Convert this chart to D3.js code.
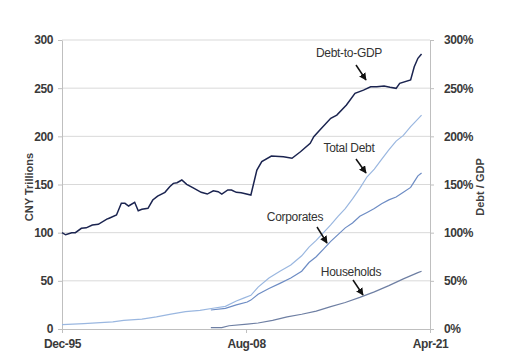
<!DOCTYPE html>
<html>
<head>
<meta charset="utf-8">
<script src="https://cdn.jsdelivr.net/npm/d3@7"></script>
<style>
  body { margin: 0; background: #fff; }
  svg { display: block; }
  .tick text { font-family: "Liberation Sans", Arial, sans-serif; font-size: 12px; font-weight: bold; letter-spacing: -0.4px; fill: #3a3a3a; }
  .ann { font-family: "Liberation Sans", Arial, sans-serif; font-size: 12px; letter-spacing: -0.3px; fill: #333; }
  .title { font-family: "Liberation Sans", Arial, sans-serif; font-size: 11px; font-weight: bold; fill: #404040; }
</style>
</head>
<body>
<svg id="chart" width="507" height="362"></svg>
<script>
// Series (CNY trillions, Debt-to-GDP in %).
const debtToGdp = [
  ["1995-12", 100], ["1996-03", 97.8], ["1996-08", 100], ["1996-11", 100], ["1997-04", 104.5],
  ["1997-08", 105], ["1998-01", 108], ["1998-06", 108.7], ["1999-01", 114], ["1999-03", 115],
  ["1999-09", 118.3], ["2000-01", 130.5], ["2000-04", 130.5], ["2000-07", 127.7], ["2000-12", 131.5],
  ["2001-03", 122.8], ["2001-06", 124.3], ["2001-11", 125.3], ["2002-03", 133.9], ["2002-07", 138],
  ["2003-01", 141.9], ["2003-05", 147.7], ["2003-08", 151.2], ["2003-11", 151.9], ["2004-03", 154.7],
  ["2004-07", 150.2], ["2004-12", 146.7], ["2005-07", 141.9], ["2005-12", 140.1], ["2006-05", 143.5],
  ["2006-09", 142.5], ["2006-12", 140.1], ["2007-05", 144.3], ["2007-08", 144.3], ["2007-12", 141.9],
  ["2008-04", 141.5], ["2008-12", 139.1], ["2009-05", 165], ["2009-09", 173.7], ["2010-05", 179.6],
  ["2011-03", 178.9], ["2011-10", 177.2], ["2012-05", 184], ["2013-01", 192.8], ["2013-04", 199.6],
  ["2013-09", 206.6], ["2014-06", 218.7], ["2014-11", 222.1], ["2015-07", 232.5], ["2016-02", 244.7],
  ["2016-09", 248], ["2017-03", 251.5], ["2017-08", 251.5], ["2018-02", 252.2], ["2018-07", 250.9],
  ["2018-12", 249.8], ["2019-03", 255], ["2019-12", 258.5], ["2020-03", 272.3], ["2020-06", 281],
  ["2020-09", 285.5]
];

const totalDebt = [
  ["1995-12", 4.5], ["1997-06", 5.6], ["1999-06", 7.3], ["2000-03", 9], ["2001-06", 10.2],
  ["2002-06", 12.5], ["2003-06", 15.5], ["2004-06", 18], ["2005-06", 19.3], ["2006-06", 21.8],
  ["2007-03", 23.5], ["2007-12", 29], ["2008-06", 32], ["2008-12", 35], ["2009-06", 43.5],
  ["2010-03", 53], ["2010-12", 60], ["2011-09", 66.4], ["2012-06", 76], ["2012-12", 85],
  ["2013-06", 92], ["2013-12", 100], ["2014-06", 108], ["2014-12", 117], ["2015-06", 125],
  ["2015-12", 135], ["2016-06", 146], ["2016-12", 158], ["2017-06", 166], ["2017-12", 176],
  ["2018-06", 186], ["2018-12", 195], ["2019-06", 201], ["2019-12", 210], ["2020-03", 214],
  ["2020-09", 222]
];

const corporates = [
  ["2006-03", 19.7], ["2007-03", 21.5], ["2007-12", 25], ["2008-09", 28], ["2008-12", 30],
  ["2009-06", 36], ["2010-03", 42], ["2010-12", 47.4], ["2011-09", 53], ["2012-06", 60],
  ["2012-12", 69], ["2013-06", 75], ["2013-12", 83], ["2014-06", 91], ["2014-12", 98],
  ["2015-06", 105], ["2015-12", 110], ["2016-06", 117], ["2016-12", 121], ["2017-06", 125],
  ["2017-12", 130], ["2018-06", 134], ["2018-12", 137], ["2019-06", 142], ["2019-12", 147],
  ["2020-03", 153], ["2020-06", 159], ["2020-09", 162]
];

const households = [
  ["2006-03", 1.5], ["2006-12", 1.5], ["2007-06", 3.4], ["2008-09", 5], ["2009-06", 6.2],
  ["2010-06", 9], ["2011-06", 12.5], ["2012-06", 15.3], ["2013-06", 18.5], ["2014-06", 23.3],
  ["2015-06", 27.5], ["2016-06", 32.8], ["2017-06", 38.5], ["2018-06", 45], ["2019-06", 52],
  ["2020-06", 58.5], ["2020-09", 60]
];

const leftTicks = [0, 50, 100, 150, 200, 250, 300];
const dateTicks = ["1995-12", "2008-08", "2021-04"];

const parse = d3.timeParse("%Y-%m");

const svg = d3.select("#chart");
const margin = { top: 40, right: 77, bottom: 33, left: 62 };
const width = 507 - margin.left - margin.right;
const height = 362 - margin.top - margin.bottom;

const x = d3.scaleTime()
    .domain([parse("1995-12"), parse("2021-04")])
    .range([margin.left, margin.left + width]);

const y = d3.scaleLinear()
    .domain([0, 300])
    .range([margin.top + height, margin.top]);

// Gridlines.
svg.append("g")
    .selectAll("line")
    .data(leftTicks.filter(d => d > 0))
    .join("line")
    .attr("x1", margin.left)
    .attr("x2", margin.left + width)
    .attr("y1", d => y(d))
    .attr("y2", d => y(d))
    .attr("stroke", "#d9d9d9")
    .attr("stroke-width", 1);

// Axes.
const styleAxis = (g) => {
    g.select(".domain").attr("stroke", "#bfbfbf");
    g.selectAll(".tick line").attr("stroke", "#bfbfbf");
};

svg.append("g")
    .attr("transform", `translate(${margin.left},0)`)
    .call(d3.axisLeft(y).tickValues(leftTicks).tickSize(4).tickSizeOuter(0).tickPadding(5))
    .call(styleAxis);

svg.append("g")
    .attr("transform", `translate(${margin.left + width},0)`)
    .call(d3.axisRight(y).tickValues(leftTicks).tickFormat(d => d + "%").tickSize(4).tickSizeOuter(0).tickPadding(10))
    .call(styleAxis);

svg.append("g")
    .attr("transform", `translate(0,${margin.top + height})`)
    .call(d3.axisBottom(x).tickValues(dateTicks.map(parse)).tickFormat(d3.timeFormat("%b-%y")).tickSize(4).tickSizeOuter(0).tickPadding(6))
    .call(styleAxis);

// Axis titles.
svg.append("text")
    .attr("class", "title")
    .attr("transform", "translate(33,187) rotate(-90)")
    .attr("text-anchor", "middle")
    .text("CNY  Trillions");

svg.append("text")
    .attr("class", "title")
    .attr("transform", "translate(484,187) rotate(-90)")
    .attr("text-anchor", "middle")
    .text("Debt / GDP");

// Lines.
const line = d3.line()
    .x(d => x(parse(d[0])))
    .y(d => y(d[1]));

const series = [
    { data: totalDebt, color: "#9ab7e0", w: 1.2 },
    { data: corporates, color: "#6d8cc4", w: 1.2 },
    { data: households, color: "#6e7fa3", w: 1.2 },
    { data: debtToGdp, color: "#1b2450", w: 1.5 }
];

svg.append("g")
    .selectAll("path")
    .data(series)
    .join("path")
    .attr("d", d => line(d.data))
    .attr("fill", "none")
    .attr("stroke", d => d.color)
    .attr("stroke-width", d => d.w);

// Annotations.
svg.append("defs").append("marker")
    .attr("id", "arrow")
    .attr("viewBox", "0 0 10 10")
    .attr("refX", 9)
    .attr("refY", 5)
    .attr("markerWidth", 5)
    .attr("markerHeight", 5)
    .attr("orient", "auto")
    .append("path")
    .attr("d", "M0,0L10,5L0,10z")
    .attr("fill", "#111");

const notes = [
    { label: "Debt-to-GDP", tx: 349, ty: 57, a: [356, 65, 366, 80] },
    { label: "Total Debt", tx: 349, ty: 152, a: [356, 159, 366, 173] },
    { label: "Corporates", tx: 295, ty: 221, a: [317, 227, 327, 243] },
    { label: "Households", tx: 351, ty: 276, a: [353, 280, 363, 295] }
];

notes.forEach((n) => {
    svg.append("text")
        .attr("class", "ann")
        .attr("x", n.tx)
        .attr("y", n.ty)
        .attr("text-anchor", "middle")
        .text(n.label);

    svg.append("line")
        .attr("x1", n.a[0])
        .attr("y1", n.a[1])
        .attr("x2", n.a[2])
        .attr("y2", n.a[3])
        .attr("stroke", "#111")
        .attr("stroke-width", 1.5)
        .attr("marker-end", "url(#arrow)");
});
</script>
</body>
</html>
